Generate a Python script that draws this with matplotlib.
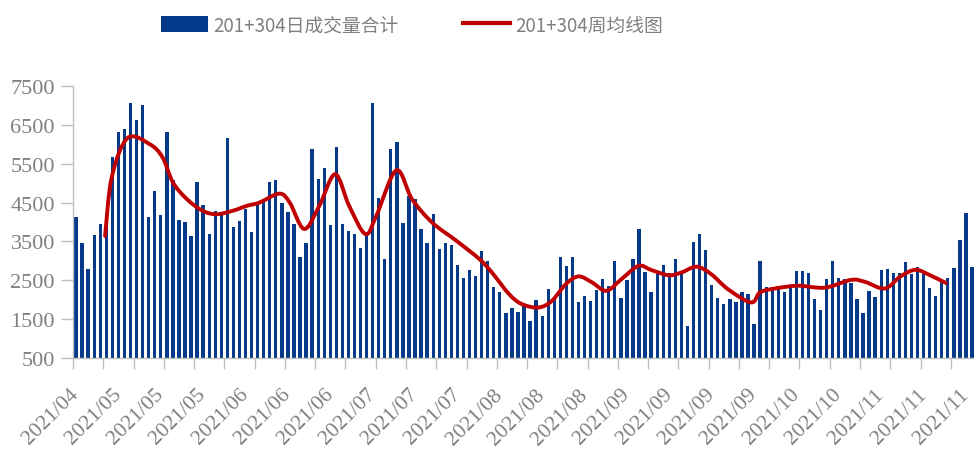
#!/usr/bin/env python3
"""201+304 daily volume bars with smoothed weekly average line."""

import matplotlib

matplotlib.use("Agg")

import matplotlib.pyplot as plt
import numpy as np
from matplotlib.font_manager import FontProperties
from matplotlib.lines import Line2D
from matplotlib.patches import Patch, PathPatch
from matplotlib.path import Path

# daily volume, one bar per trading day
DAILY_VOLUME = [
    4130, 3470, 2800, 3670, 3940, 4240, 5660, 6320, 6390, 7050,
    6630, 7010, 4130, 4800, 4180, 6320, 5080, 4060, 4010, 3650,
    5030, 4440, 3690, 4290, 4230, 6160, 3880, 4020, 4330, 3730,
    4460, 4540, 5030, 5080, 4480, 4270, 3960, 3100, 3450, 5890,
    5100, 5400, 3930, 5930, 3960, 3780, 3680, 3340, 3650, 7070,
    4630, 3040, 5890, 6070, 3970, 4660, 4590, 3810, 3460, 4200,
    3300, 3450, 3410, 2890, 2560, 2770, 2620, 3250, 3000, 2320,
    2210, 1660, 1790, 1690, 1830, 1440, 2000, 1570, 2280, 2070,
    3090, 2870, 3090, 1930, 2100, 1960, 2250, 2530, 2360, 2990,
    2040, 2510, 3050, 3810, 2720, 2210, 2660, 2900, 2700, 3040,
    2660, 1330, 3480, 3700, 3270, 2370, 2050, 1890, 2030, 1930,
    2210, 2150, 1380, 2990, 2330, 2320, 2270, 2200, 2360, 2730,
    2740, 2690, 2030, 1730, 2530, 3000, 2560, 2540, 2430, 2030,
    1650, 2230, 2070, 2760, 2790, 2690, 2690, 2960, 2660, 2830,
    2660, 2290, 2100, 2460, 2560, 2810, 3530, 4230, 2850,
]

# weekly average, read at the day index where the line passes
AVG_POS = [
    4.8, 5.9, 8.5, 12.2, 14.3, 16.0, 18.3, 20.9, 23.2, 25.9,
    28.3, 30.3, 33.6, 35.3, 37.7, 40.2, 42.8, 45.1, 47.8, 49.6,
    52.9, 55.5, 58.8, 62.8, 66.6, 68.7, 71.5, 73.6, 76.4, 78.6,
    80.9, 83.0, 85.2, 87.6, 90.1, 92.9, 95.1, 97.9, 100.0, 102.5,
    104.9, 107.7, 111.5, 113.0, 115.5, 119.3, 123.7, 128.0, 130.3, 133.6,
    136.2, 138.7, 141.2, 143.7,
]
AVG_VALUES = [
    3640, 5150, 6160, 6000, 5660, 5020, 4590, 4290, 4200, 4290,
    4420, 4500, 4730, 4500, 3820, 4420, 5230, 4420, 3690, 4160,
    5330, 4590, 3990, 3520, 3050, 2700, 2150, 1890, 1800, 1970,
    2400, 2600, 2450, 2230, 2530, 2870, 2760, 2630, 2700, 2850,
    2660, 2270, 1930, 2190, 2290, 2360, 2310, 2510, 2460, 2290,
    2600, 2770, 2620, 2430,
]

DATE_LABELS = [
    "2021/04", "2021/05", "2021/05", "2021/05", "2021/06", "2021/06",
    "2021/06", "2021/07", "2021/07", "2021/07", "2021/08", "2021/08",
    "2021/08", "2021/09", "2021/09", "2021/09", "2021/09", "2021/10",
    "2021/10", "2021/11", "2021/11", "2021/11",
]
LABEL_STEP = 7
TICK_STEP = 5
Y_TICKS = [500, 1500, 2500, 3500, 4500, 5500, 6500, 7500]

BAR_NAME = "201+304日成交量合计"
LINE_NAME = "201+304周均线图"

BAR_COLOR = "#053A8A"
LINE_COLOR = "#C00000"
AXIS_GRAY = "#BFBFBF"
TEXT_GRAY = "#808080"


def smooth_path(xs, ys) -> Path:
    # excel-like smoothed line: bezier segments through every point
    pts = np.column_stack([xs, ys]).astype(float)
    padded = np.vstack([pts[0], pts, pts[-1]])
    verts = [pts[0]]
    codes = [Path.MOVETO]
    for i in range(len(pts) - 1):
        p0, p1, p2, p3 = padded[i], padded[i + 1], padded[i + 2], padded[i + 3]
        verts += [p1 + (p2 - p0) / 6.0, p2 - (p3 - p1) / 6.0, p2]
        codes += [Path.CURVE4] * 3
    return Path(verts, codes)


def main() -> None:
    fig = plt.figure(figsize=(9.74, 4.52), dpi=100)
    ax = fig.add_axes([73 / 974, 1 - 359 / 452, (974 - 73) / 974, (359 - 87) / 452])

    x = np.arange(len(DAILY_VOLUME))
    ax.bar(x, DAILY_VOLUME, width=0.55, color=BAR_COLOR, zorder=2)

    ax.add_patch(
        PathPatch(
            smooth_path(AVG_POS, AVG_VALUES),
            fill=False,
            edgecolor=LINE_COLOR,
            linewidth=2.8,
            capstyle="round",
            joinstyle="round",
            zorder=3,
        )
    )

    ax.set_xlim(-0.5, 148.33)
    ax.set_ylim(500, 7500)

    for side in ("top", "right"):
        ax.spines[side].set_visible(False)
    for side in ("left", "bottom"):
        ax.spines[side].set_color(AXIS_GRAY)
        ax.spines[side].set_linewidth(1.0)

    serif = ["Liberation Serif", "DejaVu Serif"]

    ax.set_yticks(Y_TICKS)
    ax.set_yticklabels([str(v) for v in Y_TICKS], family=serif, fontsize=16, color=TEXT_GRAY)
    ax.tick_params(axis="y", direction="out", length=9, width=1.0, color=AXIS_GRAY, pad=4)

    label_pos = [i * LABEL_STEP for i in range(len(DATE_LABELS))]
    ax.set_xticks(label_pos)
    ax.set_xticklabels(
        DATE_LABELS,
        rotation=45,
        ha="right",
        va="center",
        rotation_mode="anchor",
        family=serif,
        fontsize=15.5,
        color=TEXT_GRAY,
    )
    ax.tick_params(axis="x", which="major", length=0, pad=24)

    minor = np.arange(-0.5, len(DAILY_VOLUME), TICK_STEP)
    ax.set_xticks(minor, minor=True)
    ax.tick_params(axis="x", which="minor", direction="out", length=8, width=1.0, color=AXIS_GRAY)

    legend_font = FontProperties(family=["Liberation Sans Narrow", "Noto Sans CJK SC"], size=13.5)
    handles = [
        Patch(facecolor=BAR_COLOR, edgecolor="none"),
        Line2D([], [], color=LINE_COLOR, linewidth=3),
    ]
    fig.legend(
        handles,
        [BAR_NAME, LINE_NAME],
        loc="center",
        bbox_to_anchor=(412 / 974, 1 - 26 / 452),
        ncol=2,
        frameon=False,
        prop=legend_font,
        labelcolor=TEXT_GRAY,
        handlelength=2.5,
        handleheight=1.0,
        handletextpad=0.3,
        columnspacing=3.4,
        borderpad=0,
        borderaxespad=0,
    )

    fig.savefig("out.png", dpi=100, facecolor="white")
    plt.close(fig)


if __name__ == "__main__":
    main()
